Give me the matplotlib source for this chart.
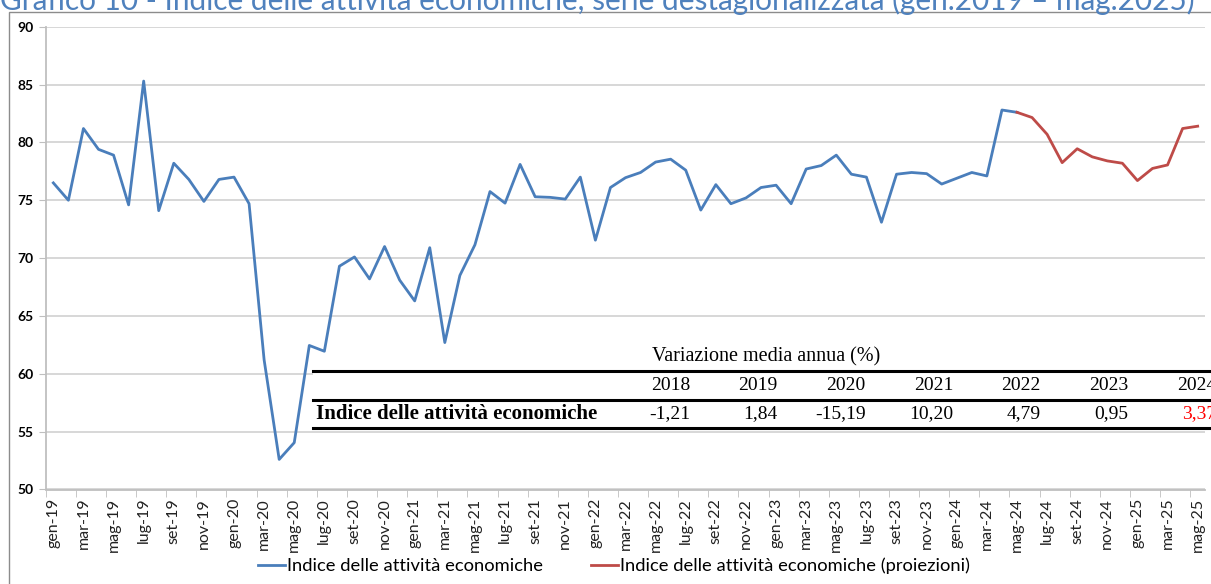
import matplotlib.pyplot as plt
from matplotlib.lines import Line2D
from matplotlib.patches import Rectangle

# dati (lettura dal grafico)
mesi = ['gen', 'feb', 'mar', 'apr', 'mag', 'giu', 'lug', 'ago', 'set', 'ott', 'nov', 'dic']
anni = ['19', '20', '21', '22', '23', '24', '25']

indice = [76.5, 75.0, 81.2, 79.4, 78.9, 74.6, 85.3, 74.1, 78.2, 76.8, 74.9, 76.8,
          77.0, 74.7, 61.2, 52.6, 54.05, 62.45, 61.95, 69.3, 70.1, 68.2, 71.0, 68.1,
          66.3, 70.9, 62.7, 68.5, 71.15, 75.75, 74.75, 78.1, 75.3, 75.25, 75.1, 77.0,
          71.55, 76.1, 76.95, 77.4, 78.3, 78.55, 77.6, 74.15, 76.35, 74.7, 75.2, 76.1,
          76.3, 74.7, 77.7, 78.0, 78.9, 77.25, 77.0, 73.1, 77.25, 77.4, 77.3, 76.4,
          76.9, 77.4, 77.1, 82.8, 82.6]
proiezioni = [82.6, 82.15, 80.7, 78.25, 79.45, 78.75, 78.4, 78.2, 76.7, 77.75, 78.05, 81.2, 81.4]

anni_tab = ['2018', '2019', '2020', '2021', '2022', '2023', '2024']
var_tab = ['-1,21', '1,84', '-15,19', '10,20', '4,79', '0,95', '3,37']

etichette = [m + '-' + a for a in anni for m in mesi][:len(indice) + len(proiezioni) - 1]

W, H = 1211, 584
BLU = '#4A7EBB'
ROSSO = '#BE4B48'


def fx(px):
    return px / W


def fy(py):
    return 1 - py / H


fig = plt.figure(figsize=(W / 100, H / 100), dpi=100)
fig.patch.set_facecolor('white')

# bordo area grafico
fig.patches.append(Rectangle((fx(9), fy(700)), 2, fy(12) - fy(700), transform=fig.transFigure,
                             facecolor='none', edgecolor='#8C8C8C', lw=1))

ax = fig.add_axes([fx(45.8), fy(489.5), fx(1205.2) - fx(45.8), fy(26.7) - fy(489.5)])

x_blu = list(range(len(indice)))
x_rosso = list(range(len(indice) - 1, len(indice) - 1 + len(proiezioni)))
ax.plot(x_blu, indice, color=BLU, lw=2, zorder=3)
ax.plot(x_rosso, proiezioni, color=ROSSO, lw=2, zorder=3)

ax.set_xlim(-0.5, len(etichette) - 0.5)
ax.set_ylim(50, 90)
ax.set_yticks(range(50, 91, 5))
ax.yaxis.grid(True, color='#D4D4D4', lw=1.3)
ax.set_axisbelow(True)

ax.set_xticks(range(0, len(etichette), 2))
ax.set_xticklabels(etichette[::2], rotation=90, fontsize=11.5, family='Lato', color='#222222')
ax.set_xticks([i - 0.5 for i in range(0, len(etichette) + 1, 2)], minor=True)
ax.tick_params(axis='x', which='major', length=0, pad=6)
ax.tick_params(axis='x', which='minor', length=5, color='#BFBFBF')
ax.tick_params(axis='y', length=5, color='#BFBFBF', pad=4)
for t in ax.get_yticklabels():
    t.set_fontweight('bold')
    t.set_fontsize(10)
    t.set_family('Lato')

for s in ['top', 'right']:
    ax.spines[s].set_visible(False)
ax.spines['left'].set_color('#BFBFBF')
ax.spines['bottom'].set_color('#BFBFBF')
ax.spines['left'].set_linewidth(1.3)
ax.spines['bottom'].set_linewidth(1.3)

# titolo (tagliato in alto come nell'originale)
fig.text(fx(0), fy(10), 'Grafico 10 - Indice delle attività economiche, serie destagionalizzata (gen.2019 \u2013 mag.2025)',
         color='#4F81BD', fontsize=21.4, family='Lato', ha='left', va='baseline')

# tabella variazioni
fig.patches.append(Rectangle((fx(313), fy(431)), fx(W + 10) - fx(313), fy(354) - fy(431),
                             transform=fig.transFigure, facecolor='white', edgecolor='none', zorder=5))
for py in [370.5, 399.5, 428]:
    fig.add_artist(Line2D([fx(313), fx(W + 10)], [fy(py), fy(py)], color='black', lw=2.2, zorder=6))
serif = 'Liberation Serif'
fig.text(fx(652), fy(357), 'Variazione media annua (%)', family=serif, fontsize=14.5,
         ha='left', va='center', zorder=7)
fig.text(fx(316), fy(414), 'Indice delle attività economiche', family=serif, fontsize=15,
         fontweight='bold', ha='left', va='center', zorder=7)
for k, (a, v) in enumerate(zip(anni_tab, var_tab)):
    xr = fx(690 + k * 87.7)
    fig.text(xr, fy(386), a, family=serif, fontsize=14, ha='right', va='center', zorder=7)
    col = 'red' if k == len(anni_tab) - 1 else 'black'
    fig.text(xr, fy(414), v, family=serif, fontsize=14, ha='right', va='center', color=col, zorder=7)

# legenda
maniglie = [Line2D([], [], color=BLU, lw=2), Line2D([], [], color=ROSSO, lw=2)]
fig.legend(maniglie, ['Indice delle attività economiche', 'Indice delle attività economiche (proiezioni)'],
           loc='center', bbox_to_anchor=(fx(614), fy(566)), ncol=2, frameon=False,
           prop={'family': 'Lato', 'size': 13.2}, handlelength=1.5, handletextpad=0.1, columnspacing=2.6)

plt.savefig('out.png', dpi=100)
